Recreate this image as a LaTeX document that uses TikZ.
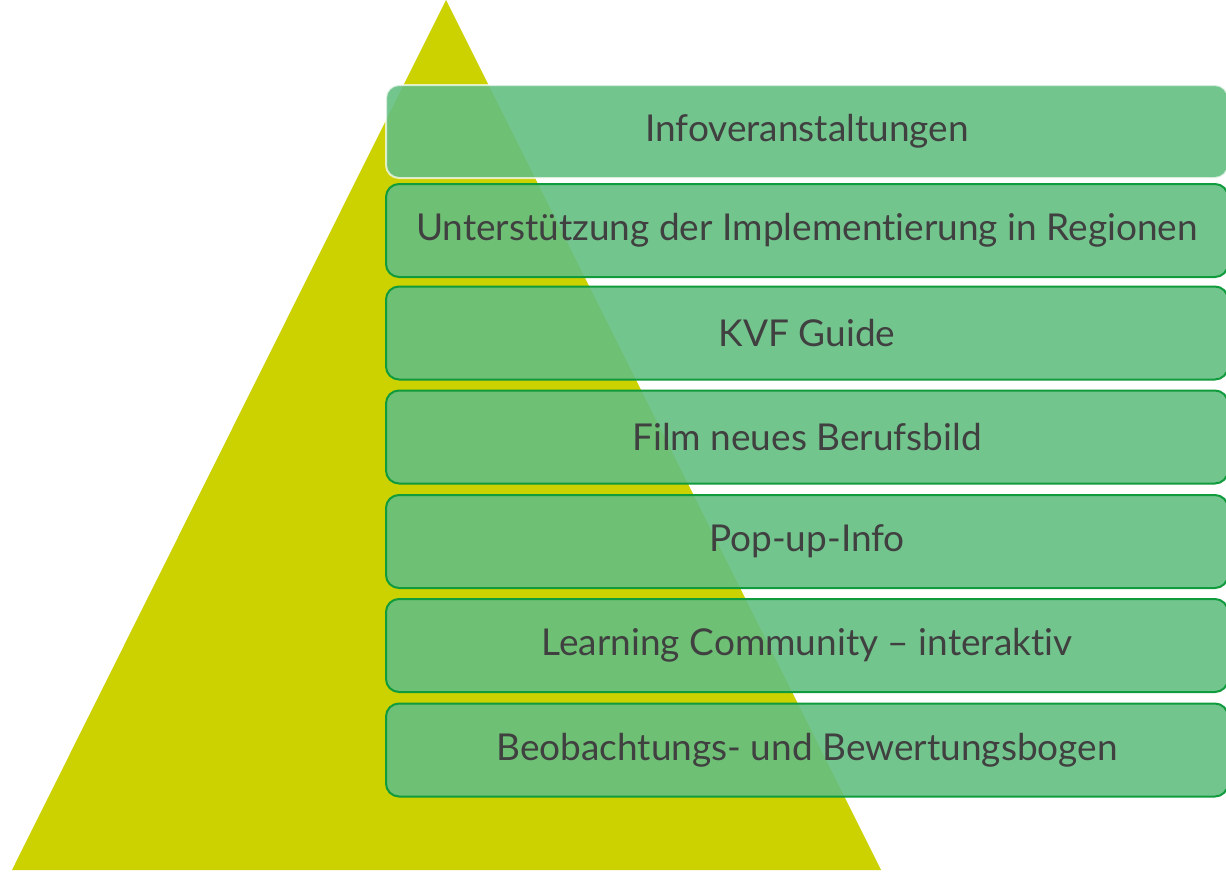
\documentclass[tikz,border=0pt]{standalone}
\usepackage{fontspec}
\setmainfont{Lato}[Ligatures={NoCommon,NoRequired,NoContextual}]
\definecolor{pyr}{RGB}{204,209,0}
\definecolor{boxfill}{RGB}{100,191,130}
\definecolor{boxline}{RGB}{16,155,60}
\definecolor{txt}{RGB}{64,64,64}
\begin{document}
\begin{tikzpicture}[x=1pt,y=-1pt,
  layer/.style={draw=boxline,line width=2pt,fill=boxfill,fill opacity=0.9,text opacity=1,
    rounded corners=13pt,minimum width=842pt,minimum height=93pt,inner sep=0pt,
    text=txt,font=\fontsize{37}{40}\selectfont},
  toplayer/.style={layer,draw=white,draw opacity=0.7}]
\useasboundingbox (0,0) rectangle (1226,871);
\fill[white] (0,0) rectangle (1226,871);
\fill[pyr] (446,0) -- (12,870) -- (881,870) -- cycle;
\node[toplayer] (b1) at (807,131.5) {Infoveranstaltungen};
\node[layer] (b2) at (807,230.5) {Unterstützung der Implementierung in Regionen};
\node[layer] (b3) at (807,333) {KVF Guide};
\node[layer] (b4) at (807,437) {Film neues Berufsbild};
\node[layer] (b5) at (807,541.5) {Pop-up-Info};
\node[layer] (b6) at (807,645.5) {Learning Community – interaktiv};
\node[layer] (b7) at (807,750) {Beobachtungs- und Bewertungsbogen};
\end{tikzpicture}
\end{document}
